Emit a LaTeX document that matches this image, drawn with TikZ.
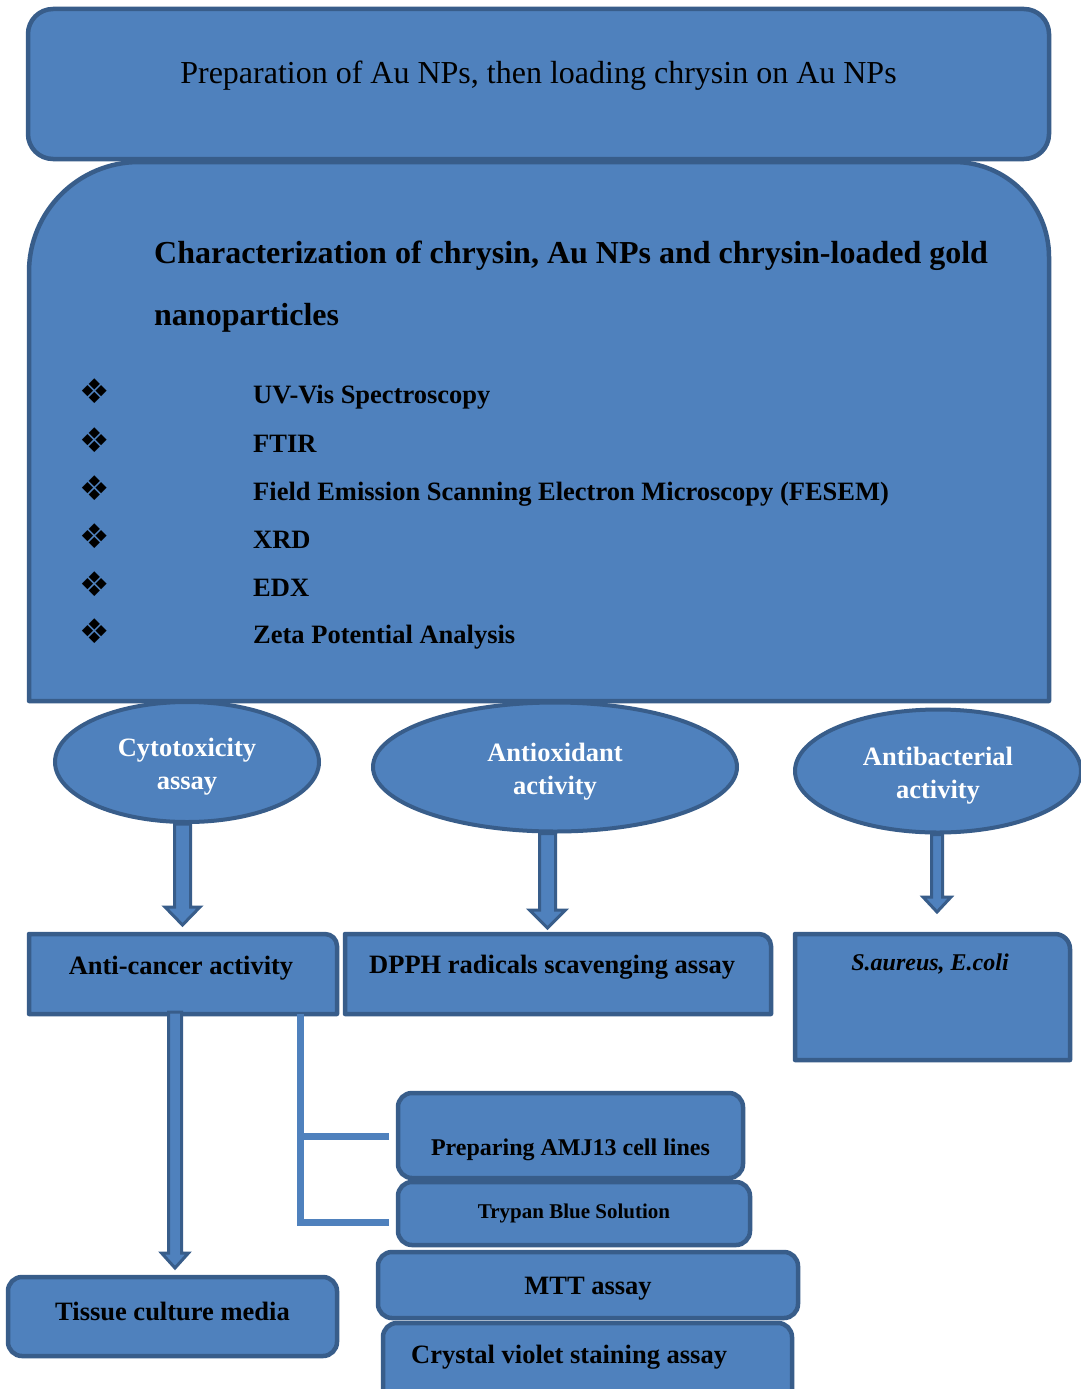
\documentclass[tikz,border=0pt]{standalone}
\usepackage{fontspec}
\setmainfont{Liberation Serif}
\newfontfamily\djv{DejaVu Sans}
\usetikzlibrary{shapes.geometric,calc}
\definecolor{fillc}{RGB}{79,129,189}
\definecolor{edgec}{RGB}{56,93,138}
\newcommand\blockarrow[5]{%
  \path[barrow] let \p1=(#1), \p2=(#2) in
    (\x1-#3,\y1) -- (\x1-#3,\y2+#5) -- (\x1-#4,\y2+#5) -- (\x1,\y2)
    -- (\x1+#4,\y2+#5) -- (\x1+#3,\y2+#5) -- (\x1+#3,\y1) -- cycle;}
\newcommand\ellstrut{\rule{0pt}{27pt}}
\begin{document}
\begin{tikzpicture}[x=1pt,y=1pt,
  shapest/.style={fill=fillc,draw=edgec,line width=4.5pt,line join=round},
  rbox/.style={shapest,rounded corners=14pt,inner sep=0pt,outer sep=0pt,anchor=north west,
     font=\fontsize{26.5}{31}\selectfont\bfseries,text=black},
  frame/.style={inner sep=0pt,outer sep=0pt,anchor=north west},
  txt/.style={font=\fontsize{26.5}{31}\selectfont\bfseries,text=black,inner sep=0pt},
  ell/.style={ellipse,fill=fillc,draw=edgec,line width=4pt,inner sep=0pt,
     font=\fontsize{26.5}{33}\selectfont\bfseries,text=white,align=center},
  barrow/.style={fill=fillc,draw=edgec,line width=3pt,line join=miter},
  brk/.style={draw=fillc,line width=7pt},
  brkshadow/.style={draw=black,opacity=0.25,line width=7pt},
  bullet/.style={font=\djv\fontsize{34}{34}\selectfont,inner sep=0pt,text=black}
]
\useasboundingbox (0,0) rectangle (1081,-1389);
\clip (0,0) rectangle (1081,-1389);
\fill[white] (0,0) rectangle (1081,-1389);

% top box
\node[rbox,rounded corners=25pt,minimum width=1021pt,text height=74pt,text depth=76pt,
      font=\fontsize{32}{38}\selectfont] (prep) at (28,-9)
      {Preparation of Au NPs, then loading chrysin on Au NPs};

% characterization box
\node[frame,minimum width=1020pt,minimum height=539pt] (charbox) at (29,-162) {};
\path[shapest] (charbox.south west) -- ([yshift=-110pt]charbox.north west)
   arc[start angle=180,end angle=90,radius=110pt] -- ([xshift=-95pt]charbox.north east)
   arc[start angle=90,end angle=0,radius=95pt] -- (charbox.south east) -- cycle;
\node[txt,font=\fontsize{32}{38}\selectfont\bfseries,anchor=base west] (title1) at (154,-263)
   {Characterization of chrysin, Au NPs and chrysin-loaded gold};
\node[txt,font=\fontsize{32}{38}\selectfont\bfseries,anchor=base west] (title2) at (154,-325)
   {nanoparticles};

% bullet list
\foreach \i/\yb/\t in {1/403/UV-Vis Spectroscopy, 2/452/FTIR,
   3/500/Field Emission Scanning Electron Microscopy (FESEM), 4/548/XRD,
   5/596/EDX, 6/643/Zeta Potential Analysis}{
  \node[bullet] (b\i) at (95,-\yb+12) {❖};
  \node[txt,anchor=base west] (item\i) at (253,-\yb) {\t};
}

% ellipses
\node[ell,minimum width=264pt,minimum height=120pt] (cyto) at (187,-762) {\ellstrut Cytotoxicity\\assay};
\node[ell,minimum width=364pt,minimum height=129pt] (antiox) at (555,-767) {\ellstrut Antioxidant\\activity};
\node[ell,minimum width=286pt,minimum height=123pt] (antibac) at (938,-771) {\ellstrut Antibacterial\\activity};

% second row boxes
\node[frame,minimum width=308pt,minimum height=80pt] (anticancer) at (29,-934) {};
\path[shapest] (anticancer.south west) -- (anticancer.north west)
   -- ([xshift=-12pt]anticancer.north east) arc[start angle=90,end angle=0,radius=12pt]
   -- (anticancer.south east) -- cycle;
\node[txt,anchor=base] (anticancertxt) at (181,-974) {Anti-cancer activity};

\node[frame,minimum width=426pt,minimum height=80pt] (dpph) at (345,-934) {};
\path[shapest] (dpph.south west) -- (dpph.north west)
   -- ([xshift=-12pt]dpph.north east) arc[start angle=90,end angle=0,radius=12pt]
   -- (dpph.south east) -- cycle;
\node[txt,anchor=base west] (dpphtxt) at (369,-973) {DPPH radicals scavenging assay};

\node[frame,minimum width=275pt,minimum height=126pt] (bact) at (795,-934) {};
\path[shapest] (bact.south west) -- (bact.north west)
   -- ([xshift=-15pt]bact.north east) arc[start angle=90,end angle=0,radius=15pt]
   -- (bact.south east) -- cycle;
\node[txt,font=\fontsize{24}{28}\selectfont\bfseries\itshape,anchor=base] (bacttxt) at (930,-970)
   {S.aureus, E.coli};

% lower boxes
\node[rbox,minimum width=345pt,text height=62pt,text depth=23pt,
      font=\fontsize{24}{28}\selectfont\bfseries] (prepcell) at (398,-1093) {Preparing AMJ13 cell lines};
\node[rbox,minimum width=352pt,text height=36pt,text depth=27pt,
      font=\fontsize{21}{25}\selectfont\bfseries] (trypan) at (398,-1182) {Trypan Blue Solution};
\node[rbox,minimum width=420pt,text height=42pt,text depth=24pt] (mtt) at (378,-1252) {MTT assay};
\node[rbox,minimum width=409pt,minimum height=110pt] (crystal) at (383,-1323) {};
\node[txt,anchor=base west] (crystaltxt) at (411,-1363) {Crystal violet staining assay};
\node[rbox,minimum width=329pt,text height=43pt,text depth=36pt] (tissue) at (8,-1277) {Tissue culture media};

% block arrows
\blockarrow{$(cyto.south)+(-4.5,0)$}{$(anticancer.north)+(0,9)$}{8pt}{17.5pt}{18pt}
\blockarrow{$(antiox.south)+(-7.5,0)$}{$(dpph.north)+(0,6)$}{8pt}{18pt}{18pt}
\blockarrow{$(antibac.south)+(-1,0)$}{$(bact.north)+(0,22)$}{5.5pt}{14pt}{15pt}
\blockarrow{$(anticancer.south)+(-8,2)$}{$(tissue.north)+(0,9)$}{6.5pt}{13.5pt}{15pt}

% bracket
\coordinate (bt) at ($(anticancer.south west)+(271,0)$);
\coordinate (e1) at ($(prepcell.west)+(-9,-1)$);
\coordinate (e2) at ($(trypan.south west)+(-9,23)$);
\begin{scope}[shift={(2,-3)}]
\draw[brkshadow] (bt |- e1) -- (e1);
\draw[brkshadow] ([yshift=-3pt]bt) |- (e2);
\end{scope}
\draw[brk] (bt |- e1) -- (e1);
\draw[brk] (bt) |- (e2);
\end{tikzpicture}
\end{document}
